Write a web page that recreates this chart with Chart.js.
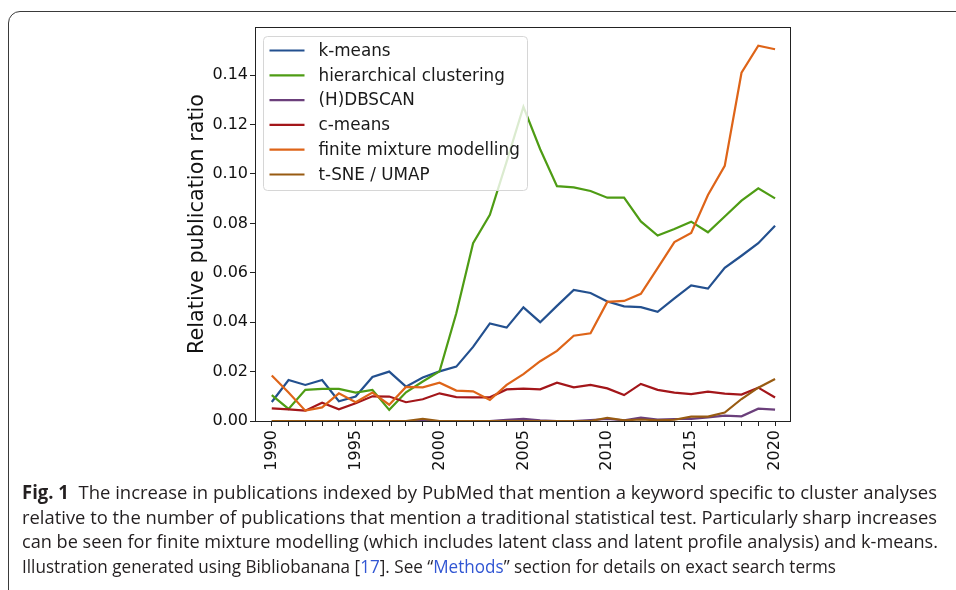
<!DOCTYPE html>
<html lang="en">
<head>
<meta charset="UTF-8">
<title>Relative publication ratio</title>
<script src="https://cdn.jsdelivr.net/npm/chart.js"></script>
<style>
  body { margin: 0; background: #fff; width: 956px; height: 590px; overflow: hidden; position: relative; }
  #frame { position: absolute; left: 8px; top: 11px; width: 990px; height: 640px; border: 1px solid #3a3a3a; border-radius: 12px; }
  #chart { position: absolute; left: 0; top: 0; }
  .cap { position: absolute; left: 22px; white-space: nowrap; line-height: 24px; height: 24px;
         font-family: 'Open Sans', 'Noto Sans', sans-serif; font-size: 19px; color: #231f20;
         transform-origin: 0 50%; }
  .cap b { font-weight: bold; }
  .ref { color: #3156d3; }
</style>
</head>
<body>
<div id="frame"></div>
<canvas id="chart" width="956" height="480"></canvas>

<div class="cap" style="top:480px" data-w="915"><b>Fig. 1</b>&nbsp; The increase in publications indexed by PubMed that mention a keyword specific to cluster analyses</div>
<div class="cap" style="top:504.5px" data-w="915">relative to the number of publications that mention a traditional statistical test. Particularly sharp increases</div>
<div class="cap" style="top:529px" data-w="916">can be seen for finite mixture modelling (which includes latent class and latent profile analysis) and k-means.</div>
<div class="cap" style="top:553.5px" data-w="814">Illustration generated using Bibliobanana [<span class="ref">17</span>]. See “<span class="ref">Methods</span>” section for details on exact search terms</div>

<script>
// data (1990 - 2020)
const years = [1990, 1991, 1992, 1993, 1994, 1995, 1996, 1997, 1998, 1999,
               2000, 2001, 2002, 2003, 2004, 2005, 2006, 2007, 2008, 2009,
               2010, 2011, 2012, 2013, 2014, 2015, 2016, 2017, 2018, 2019, 2020];

const kMeans = [0.0077, 0.0166, 0.0146, 0.0166, 0.0080, 0.0099, 0.0178, 0.0200, 0.0139, 0.0176,
                0.0201, 0.0220, 0.0300, 0.0395, 0.0378, 0.0460, 0.0400, 0.0466, 0.0531, 0.0518,
                0.0484, 0.0464, 0.0461, 0.0442, 0.0496, 0.0549, 0.0536, 0.0620, 0.0669, 0.0720, 0.0790];

const hierarchical = [0.0105, 0.0049, 0.0126, 0.0130, 0.0130, 0.0115, 0.0126, 0.0045, 0.0116, 0.0160,
                      0.0201, 0.0436, 0.0720, 0.0835, 0.1050, 0.1272, 0.1100, 0.0951, 0.0946, 0.0931,
                      0.0904, 0.0904, 0.0808, 0.0751, 0.0777, 0.0807, 0.0764, 0.0828, 0.0892, 0.0942, 0.0901];

const hdbscan = [0, 0, 0, 0, 0, 0, 0, 0, 0, 0,
                 0, 0, 0, 0, 0.0005, 0.0009, 0.0003, 0, 0, 0.0004,
                 0.0008, 0.0003, 0.0014, 0.0006, 0.0008, 0.0009, 0.0015, 0.0022, 0.0019, 0.0050, 0.0046];

const cMeans = [0.0051, 0.0047, 0.0042, 0.0074, 0.0047, 0.0072, 0.0100, 0.0099, 0.0076, 0.0088,
                0.0112, 0.0097, 0.0096, 0.0096, 0.0128, 0.0131, 0.0128, 0.0155, 0.0136, 0.0146,
                0.0132, 0.0105, 0.0150, 0.0126, 0.0115, 0.0109, 0.0119, 0.0111, 0.0107, 0.0135, 0.0095];

const finiteMixture = [0.0184, 0.0115, 0.0042, 0.0055, 0.0112, 0.0076, 0.0115, 0.0066, 0.0138, 0.0136,
                       0.0155, 0.0123, 0.0120, 0.0085, 0.0146, 0.0190, 0.0242, 0.0284, 0.0345, 0.0355,
                       0.0482, 0.0486, 0.0515, 0.0619, 0.0724, 0.0761, 0.0915, 0.1033, 0.1410, 0.1519, 0.1505];

const tsneUmap = [0, 0, 0, 0, 0, 0, 0, 0, 0, 0.0009,
                  0, 0, 0, 0, 0, 0, 0, 0, 0, 0,
                  0.0013, 0.0003, 0.0006, 0.0003, 0.0005, 0.0018, 0.0018, 0.0034, 0.0089, 0.0135, 0.0170];

const seriesNames = ['k-means', 'hierarchical clustering', '(H)DBSCAN', 'c-means',
                     'finite mixture modelling', 't-SNE / UMAP'];
const seriesColors = ['#23508f', '#4e9c14', '#6b3f7b', '#a3161a', '#de6418', '#985b12'];
const yTicks = [0, 0.02, 0.04, 0.06, 0.08, 0.10, 0.12, 0.14];
const xTickEvery = 5;

const allSeries = [kMeans, hierarchical, hdbscan, cMeans, finiteMixture, tsneUmap];

const datasets = allSeries.map((vals, i) => ({
    label: seriesNames[i],
    data: years.map((yr, j) => ({ x: yr, y: vals[j] })),
    borderColor: seriesColors[i],
    backgroundColor: seriesColors[i],
    borderWidth: 2.2,
    pointRadius: 0,
    tension: 0,
    order: allSeries.length - i   // later series on top, like matplotlib
}));

const tickFont = { family: 'DejaVu Sans', size: 16 };

// spines on all four sides
const frameBox = {
    id: 'frameBox',
    afterDatasetsDraw(chart) {
        const a = chart.chartArea, ctx = chart.ctx;
        ctx.save();
        ctx.strokeStyle = '#222';
        ctx.lineWidth = 1;
        ctx.strokeRect(a.left + 0.5, a.top + 0.5, a.right - a.left - 1, a.bottom - a.top);
        ctx.restore();
    }
};

// matplotlib style legend in the upper left of the axes
const boxLegend = {
    id: 'boxLegend',
    afterDraw(chart) {
        const a = chart.chartArea, ctx = chart.ctx;
        const x0 = a.left + 8.5, y0 = a.top + 9.5, w = 264, h = 154, r = 4;
        ctx.save();
        ctx.beginPath();
        ctx.roundRect(x0, y0, w, h, r);
        ctx.fillStyle = 'rgba(255,255,255,0.8)';
        ctx.fill();
        ctx.strokeStyle = '#d6d6d6';
        ctx.lineWidth = 1;
        ctx.stroke();
        ctx.font = '16.8px "DejaVu Sans"';
        ctx.textBaseline = 'middle';
        chart.data.datasets.forEach((ds, i) => {
            const cy = y0 + 14 + i * 24.8;
            ctx.beginPath();
            ctx.moveTo(x0 + 6, cy);
            ctx.lineTo(x0 + 41, cy);
            ctx.strokeStyle = ds.borderColor;
            ctx.lineWidth = 2.2;
            ctx.stroke();
            ctx.fillStyle = '#1a1a1a';
            ctx.fillText(ds.label, x0 + 55, cy + 1);
        });
        ctx.restore();
    }
};

new Chart(document.getElementById('chart'), {
    type: 'line',
    data: { datasets: datasets },
    options: {
        responsive: false,
        animation: false,
        layout: { padding: { left: 185, right: 165, top: 27, bottom: 0 } },
        plugins: { legend: { display: false }, tooltip: { enabled: false } },
        scales: {
            x: {
                type: 'linear',
                min: 1989.0,
                max: 2020.95,
                afterBuildTicks: s => { s.ticks = years.map(v => ({ value: v })); },
                afterFit: s => { s.height = 59; },
                border: { display: false },
                grid: { drawOnChartArea: false, drawTicks: true, tickLength: 5, color: '#222' },
                ticks: {
                    autoSkip: false, minRotation: 90, maxRotation: 90, padding: 4,
                    color: '#111', font: tickFont,
                    callback: v => (v % xTickEvery === 0 ? String(v) : '')
                }
            },
            y: {
                min: 0,
                max: 0.1595,
                afterBuildTicks: s => { s.ticks = yTicks.map(v => ({ value: v })); },
                afterFit: s => { s.width = 70; },
                border: { display: false },
                grid: { drawOnChartArea: false, drawTicks: true, tickLength: 5, color: '#222' },
                ticks: { padding: 2, color: '#111', font: tickFont, callback: v => v.toFixed(2) },
                title: {
                    display: true, text: 'Relative publication ratio', color: '#111',
                    font: { family: 'DejaVu Sans', size: 20.8 }, padding: { top: 0, bottom: 0 }
                }
            }
        }
    },
    plugins: [frameBox, boxLegend]
});

// squeeze caption lines to the width they take in the figure
document.querySelectorAll('.cap').forEach(el => {
    const w = el.getBoundingClientRect().width;
    el.style.transform = 'scaleX(' + (parseFloat(el.dataset.w) / w) + ')';
});
</script>
</body>
</html>
